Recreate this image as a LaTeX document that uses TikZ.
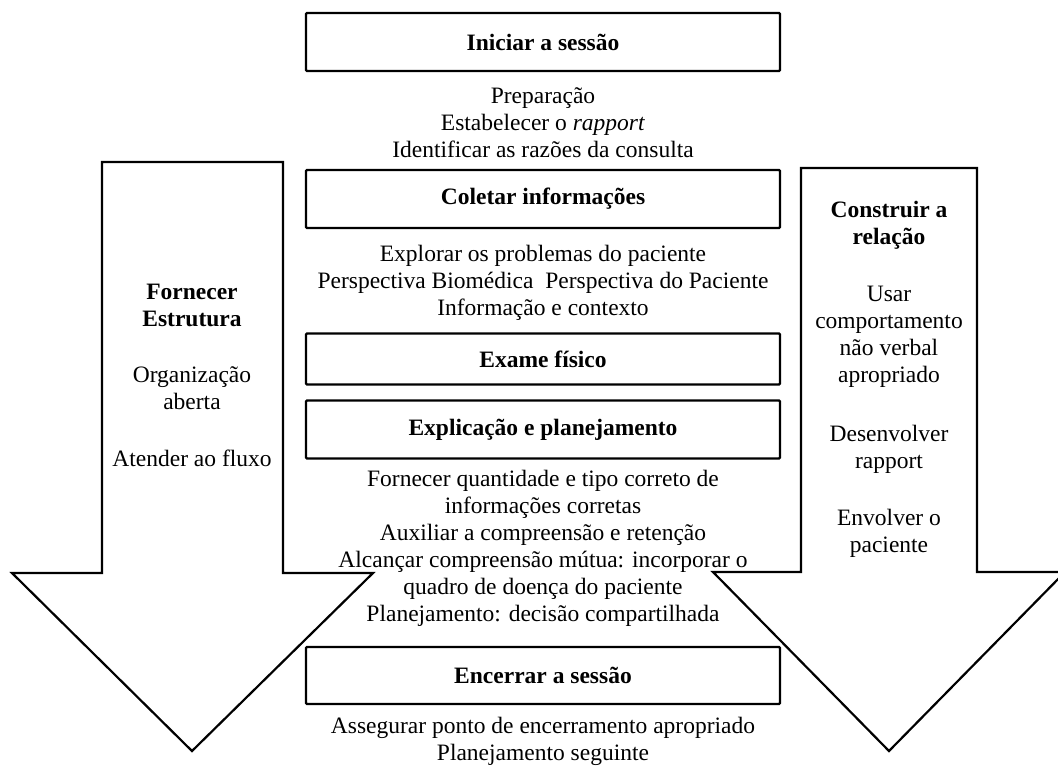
\documentclass[tikz,border=0pt]{standalone}
\usepackage{fontspec}
\setmainfont{Liberation Serif}
\usetikzlibrary{positioning}

\begin{document}
\begin{tikzpicture}[x=1pt,y=-1pt,
    every node/.style={font=\fontsize{23.5}{27}\selectfont, align=center, inner sep=0pt},
    titulo/.style={font=\fontsize{23.5}{27}\selectfont\bfseries},
    etapa/.style={draw, line width=2.4pt, rounded corners=1pt, minimum width=474pt, minimum height=58pt, titulo},
    seta/.style={draw, line width=2.2pt, line join=miter}]
    \useasboundingbox (0,0) rectangle (1058,769);
    \clip (0,0) rectangle (1058,769);
    % setas laterais
    \draw [seta] (102,162) -- (283,162) -- (283,573) -- (373,573) -- (192,751)
        -- (12,573) -- (102,573) -- cycle;
    \draw [seta] (801,168) -- (977,168) -- (977,572) -- (1065,572) -- (889,751)
        -- (713,572) -- (801,572) -- cycle;
    % etapas
    \node [etapa] (iniciar) at (543,42) {Iniciar a sess\~ao};
    \node [etapa] (coletar) at (543,199) {Coletar informa\c{c}\~oes};
    \node [etapa, minimum height=51pt] (exame) at (543,359) {Exame f\'isico};
    \node [etapa] (explic) at (543,429.5) {Explica\c{c}\~ao e planejamento};
    \node [etapa, minimum height=57pt] (encerrar) at (543,675.5) {Encerrar a sess\~ao};
    % textos
    \node (tIniciar) at (543,123) {Prepara\c{c}\~ao\\Estabelecer o \textit{rapport}\\Identificar as raz\~oes da consulta};
    \node (tColetar) at (543,283) {Explorar os problemas do paciente\\Perspectiva Biom\'edica\ \ Perspectiva do Paciente\\Informa\c{c}\~ao e contexto};
    \node (tExplic) at (543,548) {Fornecer quantidade e tipo correto de\\informa\c{c}\~oes corretas\\Auxiliar a compreens\~ao e reten\c{c}\~ao\\Alcan\c{c}ar compreens\~ao m\'utua: incorporar o\\quadro de doen\c{c}a do paciente\\Planejamento: decis\~ao compartilhada};
    \node (tEncerrar) at (543,741.5) {Assegurar ponto de encerramento apropriado\\Planejamento seguinte};
    % lado esquerdo
    \node [titulo] (estrutura) at (192,305) {Fornecer\\Estrutura};
    \node (organiz) at (192,388.5) {Organiza\c{c}\~ao\\aberta};
    \node (fluxo) at (192,458) {Atender ao fluxo};
    % lado direito
    \node [titulo] (relacao) at (889,225) {Construir a\\rela\c{c}\~ao};
    \node (usar) at (889,337) {Usar\\comportamento\\n\~ao verbal\\apropriado};
    \node (rapport) at (889,449) {Desenvolver\\rapport};
    \node (envolver) at (889,533) {Envolver o\\paciente};
\end{tikzpicture}
\end{document}
